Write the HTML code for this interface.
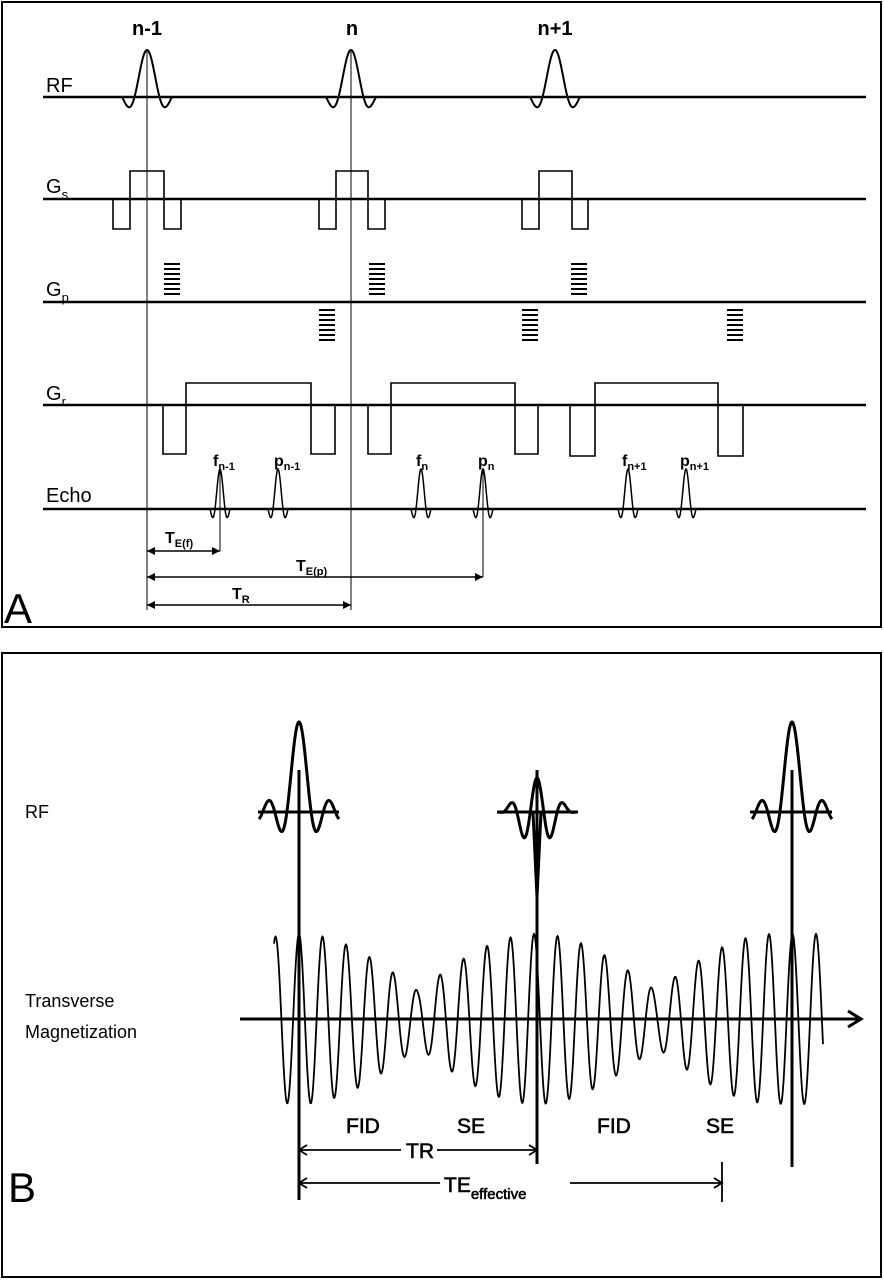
<!DOCTYPE html>
<html><head><meta charset="utf-8"><style>
html,body{margin:0;padding:0;background:#fff}
svg{display:block}
text{font-family:"Liberation Sans",Arial,sans-serif;fill:#000}
</style></head><body>
<svg id="s" width="884" height="1280" viewBox="0 0 884 1280" xmlns="http://www.w3.org/2000/svg">
<rect x="2" y="2" width="879" height="625" fill="none" stroke="#000" stroke-width="2"/>
<rect x="2" y="653" width="879" height="624" fill="none" stroke="#000" stroke-width="2"/>
<g stroke="#000" stroke-width="2.5" fill="none">
<line x1="43" y1="97" x2="866" y2="97"/>
<line x1="43" y1="199" x2="866" y2="199"/>
<line x1="43" y1="302" x2="866" y2="302"/>
<line x1="43" y1="405" x2="866" y2="405"/>
<line x1="43" y1="509" x2="866" y2="509"/>
</g>
<g stroke="#000" stroke-width="1" fill="none">
<line x1="147" y1="50" x2="147" y2="610"/>
<line x1="351" y1="50" x2="351" y2="610"/>
<line x1="220" y1="470" x2="220" y2="551"/>
<line x1="483" y1="470" x2="483" y2="577"/>
</g>
<g stroke="#000" stroke-width="1.6" fill="none">
<path d="M113 199V229H130V171H164V229H181V199"/>
<path d="M319 199V229H336V171H368V229H385V199"/>
<path d="M522 199V229H539V171H572V229H588V199"/>
<path d="M163 405V454H186V383H311V454H335V405"/>
<path d="M368 405V454H391V383H515V454H538V405"/>
<path d="M570 405V456H595V383H718V456H743V405"/>
<path d="M147 551H220M147 577H483M147 605H351"/>
</g>
<g fill="#000">
<path d="M147 551l8-4v8zM220 551l-8-4v8zM147 577l8-4v8zM483 577l-8-4v8zM147 605l8-4v8zM351 605l-8-4v8z"/>
</g>
<g id="stripes" stroke="#000" stroke-width="2"></g>
<g id="waves" stroke="#000" fill="none"></g>
<g font-size="20">
<text x="46" y="92">RF</text>
<text x="46" y="193">G<tspan font-size="13" dy="6">s</tspan></text>
<text x="46" y="296">G<tspan font-size="13" dy="6">p</tspan></text>
<text x="46" y="400">G<tspan font-size="13" dy="6">r</tspan></text>
<text x="46" y="502">Echo</text>
</g>
<g font-size="20" font-weight="bold" text-anchor="middle">
<text x="147" y="35">n-1</text>
<text x="352" y="35">n</text>
<text x="555" y="35">n+1</text>
</g>
<g font-size="16" font-weight="bold">
<text x="213" y="466">f<tspan font-size="11" dy="4">n-1</tspan></text>
<text x="274" y="466">p<tspan font-size="11" dy="4">n-1</tspan></text>
<text x="416" y="466">f<tspan font-size="11" dy="4">n</tspan></text>
<text x="478" y="466">p<tspan font-size="11" dy="4">n</tspan></text>
<text x="622" y="466">f<tspan font-size="11" dy="4">n+1</tspan></text>
<text x="680" y="466">p<tspan font-size="11" dy="4">n+1</tspan></text>
<text x="165" y="543">T<tspan font-size="11" dy="4">E(f)</tspan></text>
<text x="296" y="571">T<tspan font-size="11" dy="4">E(p)</tspan></text>
<text x="232" y="599">T<tspan font-size="11" dy="4">R</tspan></text>
</g>
<text x="4" y="623" font-size="42">A</text>
<text x="8" y="1202" font-size="42">B</text>
<g font-size="18">
<text x="25" y="818">RF</text>
<text x="25" y="1007">Transverse</text>
<text x="25" y="1038">Magnetization</text>
</g>
<g font-size="21" stroke="#000" stroke-width="0.6">
<text x="346" y="1133">FID</text>
<text x="457" y="1133">SE</text>
<text x="597" y="1133">FID</text>
<text x="706" y="1133">SE</text>
<text x="406" y="1158">TR</text>
<text x="444" y="1192">TE<tspan font-size="15" dy="7">effective</tspan></text>
</g>
<g stroke="#000" stroke-width="1.8" fill="none">
<path d="M299 1150H401M437 1150H537M299 1183H440M570 1183H722"/>
<path d="M307 1145L299 1150L307 1155M529 1145L537 1150L529 1155M307 1178L299 1183L307 1188M714 1178L722 1183L714 1188"/>
<line x1="722" y1="1162" x2="722" y2="1202"/>
</g>
<g stroke="#000" stroke-width="3" fill="none">
<line x1="258" y1="812" x2="339" y2="812"/>
<line x1="497" y1="812" x2="578" y2="812"/>
<line x1="750" y1="812" x2="832" y2="812"/>
<line x1="240" y1="1019" x2="860" y2="1019"/>
<path d="M848 1011L861 1019L848 1027"/>
<line x1="299" y1="770" x2="299" y2="1200"/>
<line x1="537" y1="770" x2="537" y2="1164"/>
<line x1="792" y1="770" x2="792" y2="1167"/>
</g>
</svg>
<script>
var NS="http://www.w3.org/2000/svg",W=document.getElementById("waves"),S=document.getElementById("stripes");
function P(d,w){var p=document.createElementNS(NS,"path");p.setAttribute("d",d);p.setAttribute("stroke-width",w);W.appendChild(p);}
function sinc(cx,by,hw,h,lobes,w,inv){var d="";for(var x=-hw;x<=hw;x+=0.5){var u=x/hw*lobes*Math.PI;var v=Math.abs(u)<1e-6?1:Math.sin(u)/u;d+=(d?"L":"M")+(cx+x).toFixed(1)+" "+(by-(inv?-1:1)*h*v).toFixed(1);}P(d,w);}
[147,351,555].forEach(function(c){sinc(c,97,25,47,2,2,0);});
[220,278,421,483,628,686].forEach(function(c){sinc(c,509,10,40,2,1.5,0);});
function st(x,y0,up){for(var i=0;i<7;i++){var y=up?y0-i*5:y0+i*5;var l=document.createElementNS(NS,"line");l.setAttribute("x1",x);l.setAttribute("x2",x+16);l.setAttribute("y1",y);l.setAttribute("y2",y);S.appendChild(l);}}
st(164,294,1);st(369,294,1);st(571,294,1);st(319,310,0);st(522,310,0);st(727,310,0);
sinc(299,812,40,90,3.3,3,0);sinc(792,812,40,90,3.3,3,0);
(function(){var d="";for(var x=-40;x<=40;x+=0.5){var u=x/40*3.3*Math.PI;var v=Math.cos(u*0.9)*(0.5+0.5*Math.cos(x/40*Math.PI));d+=(d?"L":"M")+(537+x).toFixed(1)+" "+(812-34*v).toFixed(1);}P(d,3);
P("M533 812L537 897L541 812",3);})();
(function(){var d="";for(var x=274;x<=823;x+=0.5){var a=28+57*Math.abs(Math.cos(Math.PI*(x-299)/238));if(x>792)a=85;var y=1019-a*Math.cos(2*Math.PI*(x-299)/23.5);d+=(d?"L":"M")+x.toFixed(1)+" "+y.toFixed(1);}P(d,1.8);})();
</script>
</body></html>
